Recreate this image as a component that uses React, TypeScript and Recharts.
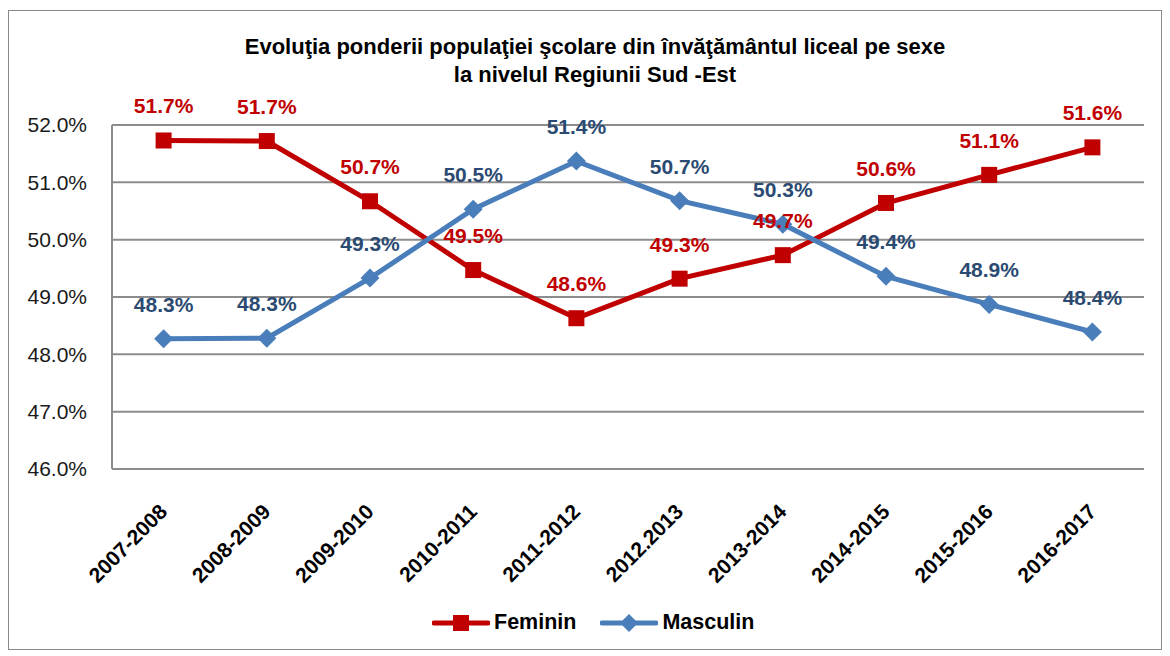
import React from 'react';
import { LineChart, Line, XAxis, YAxis, CartesianGrid } from 'recharts';

const categories = ['2007-2008', '2008-2009', '2009-2010', '2010-2011', '2011-2012', '2012.2013', '2013-2014', '2014-2015', '2015-2016', '2016-2017'];
const feminin = [51.73, 51.72, 50.67, 49.47, 48.63, 49.32, 49.73, 50.64, 51.13, 51.61];
const masculin = [48.27, 48.28, 49.33, 50.53, 51.37, 50.68, 50.27, 49.36, 48.87, 48.39];
const yTicks = [46, 47, 48, 49, 50, 51, 52];

const titleLines = ['Evoluţia ponderii populaţiei şcolare din învăţământul liceal pe sexe', 'la nivelul Regiunii Sud -Est'];

const FONT = "'Liberation Sans', Arial, sans-serif";
const RED = '#C00000';
const BLUE = '#4A7EBB';
const BLUE_TEXT = '#2B4A72';

const data = categories.map((c, i) => ({ cat: c, Feminin: feminin[i], Masculin: masculin[i] }));

const fmt = (v: number) => v.toFixed(1) + '%';

// eslint-disable-next-line @typescript-eslint/no-explicit-any
function SquareDot({ cx, cy }: any) {
  if (cx == null || cy == null) return null;
  return <rect x={cx - 8} y={cy - 8} width={16} height={16} fill={RED} />;
}

// eslint-disable-next-line @typescript-eslint/no-explicit-any
function DiamondDot({ cx, cy }: any) {
  if (cx == null || cy == null) return null;
  return <path d={`M${cx},${cy - 9.5}L${cx + 9.5},${cy}L${cx},${cy + 9.5}L${cx - 9.5},${cy}Z`} fill={BLUE} />;
}

function makeLabel(color: string) {
  // eslint-disable-next-line @typescript-eslint/no-explicit-any
  return ({ x, y, value }: any) => (
    <text x={x} y={y - 27} textAnchor="middle" fill={color} fontSize={21} fontWeight="bold" fontFamily={FONT}>
      {fmt(value)}
    </text>
  );
}

// eslint-disable-next-line @typescript-eslint/no-explicit-any
function XTick({ x, y, payload }: any) {
  return (
    <text
      x={x + 5}
      y={y + 36}
      transform={`rotate(-45 ${x + 5} ${y + 36})`}
      textAnchor="end"
      fill="#000"
      fontSize={21}
      fontWeight="bold"
      fontFamily={FONT}
    >
      {payload.value}
    </text>
  );
}

function LegendItem({ name, color, shape }: { name: string; color: string; shape: 'square' | 'diamond' }) {
  return (
    <div style={{ display: 'flex', alignItems: 'center', marginRight: 24 }}>
      <svg width={58} height={20}>
        <line x1={2} y1={10} x2={56} y2={10} stroke={color} strokeWidth={5} strokeLinecap="round" />
        {shape === 'square' ? (
          <rect x={21} y={2} width={16} height={16} fill={color} />
        ) : (
          <path d="M29,1L38,10L29,19L20,10Z" fill={color} />
        )}
      </svg>
      <span style={{ marginLeft: 4, fontSize: 21.5, fontWeight: 'bold', color: '#000' }}>{name}</span>
    </div>
  );
}

export default function App() {
  return (
    <div
      style={{
        position: 'relative',
        width: 1152,
        height: 638,
        marginTop: 2,
        border: '1px solid #8a8a8a',
        boxShadow: '3px 3px 4px rgba(0,0,0,0.35)',
        background: '#fff',
        fontFamily: FONT,
      }}
    >
      <div
        style={{
          position: 'absolute',
          top: 22,
          left: 10,
          width: 1152,
          textAlign: 'center',
          fontSize: 22,
          fontWeight: 'bold',
          lineHeight: '28px',
          color: '#000',
        }}
      >
        {titleLines.map((t) => (
          <div key={t}>{t}</div>
        ))}
      </div>
      <LineChart width={1152} height={638} data={data} margin={{ top: 114, right: 17, bottom: 0, left: 0 }}>
        <CartesianGrid vertical={false} stroke="#8c8c8c" strokeWidth={2} />
        <XAxis
          dataKey="cat"
          axisLine={false}
          tickLine={false}
          height={180}
          interval={0}
          padding={{ left: 51.6, right: 51.6 }}
          tick={<XTick />}
        />
        <YAxis
          domain={[46, 52]}
          ticks={yTicks}
          width={103}
          tickFormatter={fmt}
          axisLine={{ stroke: '#8c8c8c', strokeWidth: 2 }}
          tickLine={false}
          tickSize={0}
          tickMargin={25}
          tick={{ fontSize: 21, fill: '#1a1a1a', fontFamily: FONT }}
        />
        <Line
          dataKey="Feminin"
          stroke={RED}
          strokeWidth={5}
          dot={<SquareDot />}
          activeDot={false}
          label={makeLabel(RED)}
          isAnimationActive={false}
        />
        <Line
          dataKey="Masculin"
          stroke={BLUE}
          strokeWidth={5}
          dot={<DiamondDot />}
          activeDot={false}
          label={makeLabel(BLUE_TEXT)}
          isAnimationActive={false}
        />
      </LineChart>
      <div style={{ position: 'absolute', top: 599, left: 423, display: 'flex', alignItems: 'center' }}>
        <LegendItem name="Feminin" color={RED} shape="square" />
        <LegendItem name="Masculin" color={BLUE} shape="diamond" />
      </div>
    </div>
  );
}
